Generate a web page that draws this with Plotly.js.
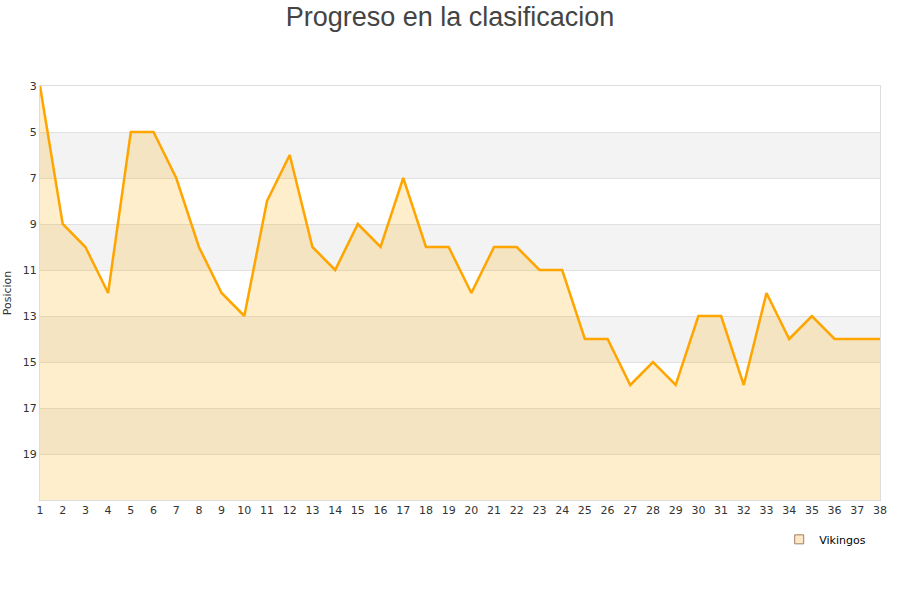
<!DOCTYPE html>
<html>
<head>
<meta charset="utf-8">
<script src="https://cdn.plot.ly/plotly-3.0.1.min.js"></script>
<style>html,body{margin:0;padding:0;background:#fff;}#chart{width:900px;height:600px;}</style>
</head>
<body>
<div id="chart"></div>
<script>
const jornadas = [1,2,3,4,5,6,7,8,9,10,11,12,13,14,15,16,17,18,19,20,21,22,23,24,25,26,27,28,29,30,31,32,33,34,35,36,37,38];
const posiciones = [3,9,10,12,5,5,7,10,12,13,8,6,10,11,9,10,7,10,10,12,10,10,11,11,14,14,16,15,16,13,13,16,12,14,13,14,14,14];
const yTicks = [3,5,7,9,11,13,15,17,19];
const bandas = [[5,7],[9,11],[13,15],[17,19]];
const fondo = 21;
const serie = 'Vikingos';

const base = {x: jornadas, y: jornadas.map(() => fondo), mode: 'lines', line: {width: 0}, hoverinfo: 'skip', showlegend: false};
const main = {x: jornadas, y: posiciones, mode: 'lines', fill: 'tonexty', fillcolor: 'rgba(255,170,0,0.2)',
  line: {color: '#FFA500', width: 2.5}, showlegend: false, name: serie};
const legendTrace = {x: [null], y: [null], mode: 'markers', name: serie,
  marker: {symbol: 'square', size: 9, color: '#FCE8C6', line: {color: '#A08060', width: 1}}};

const shapes = bandas.map(b => ({type: 'rect', xref: 'paper', x0: 0, x1: 1, yref: 'y', y0: b[0], y1: b[1],
  fillcolor: '#F3F3F3', line: {width: 0}, layer: 'below'}));

const layout = {
  width: 900, height: 600,
  margin: {l: 40, r: 20, t: 86, b: 100},
  paper_bgcolor: '#fff', plot_bgcolor: '#fff',
  font: {family: 'DejaVu Sans, sans-serif', size: 11, color: '#333'},
  title: {text: 'Progreso en la clasificacion', font: {family: 'Liberation Sans, Arial, sans-serif', size: 27, color: '#444'}, x: 0.5, y: 0.988, yanchor: 'top'},
  shapes: shapes,
  xaxis: {range: [1, 38], tickvals: jornadas, ticktext: jornadas.map(String), showgrid: false, zeroline: false,
    showline: true, mirror: true, linecolor: '#ddd', ticks: '', tickfont: {size: 11, color: '#333'}},
  yaxis: {range: [fondo, 3], tickvals: yTicks, ticktext: yTicks.map(String), showgrid: true, gridcolor: '#e0e0e0',
    zeroline: false, showline: true, mirror: true, linecolor: '#ddd', ticks: '', tickfont: {size: 11, color: '#333'},
    title: {text: 'Posicion', font: {size: 11, color: '#333'}, standoff: 8}},
  legend: {orientation: 'h', x: 0.88, y: -0.06, xanchor: 'left', yanchor: 'top', font: {size: 11, color: '#000'}},
  showlegend: true
};

Plotly.newPlot('chart', [base, main, legendTrace], layout, {displayModeBar: false, staticPlot: true});
</script>
</body>
</html>
